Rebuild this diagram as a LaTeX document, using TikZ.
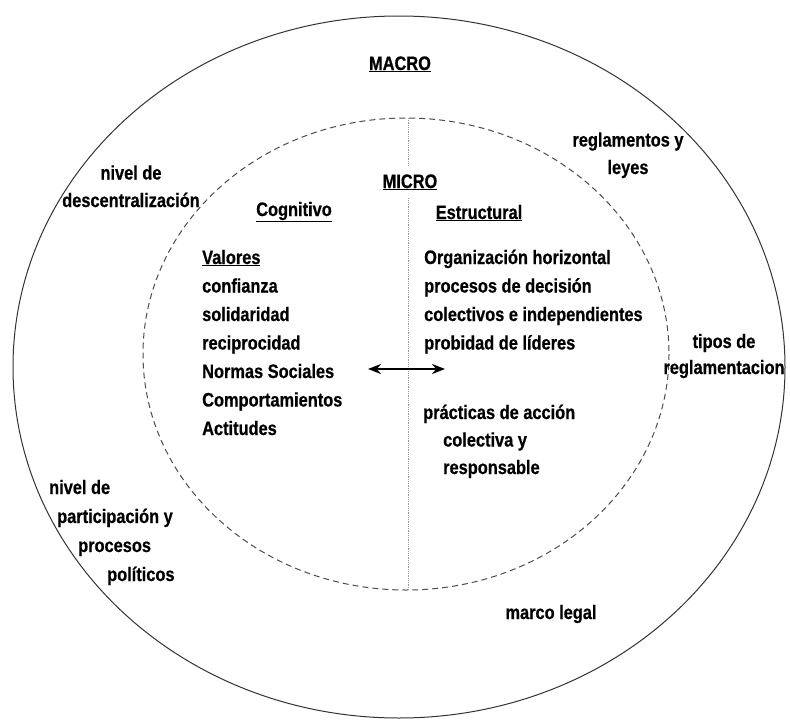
\documentclass[tikz,border=0pt]{standalone}
\usepackage{fontspec}
\setmainfont{Liberation Sans}[FakeStretch=0.84, BoldFeatures={FakeBold=0.6}]
\usetikzlibrary{arrows.meta, positioning, calc}

\begin{document}
\begin{tikzpicture}[x=1pt, y=-1pt,
    lbl/.style={font=\bfseries\fontsize{19.5}{27.5}\selectfont, inner sep=0pt, align=center},
    lcol/.style={lbl, anchor=base west},
    ring/.style={draw=black!80, line width=1pt},
    inring/.style={draw=black!70, line width=1pt, dash pattern=on 6pt off 4pt},
    divider/.style={draw=black!40, line width=0.8pt, densely dotted},
  ]
  \useasboundingbox (0,0) rectangle (790,720);

  % the two levels
  \draw[ring] (399,367) ellipse [x radius=386, y radius=351];
  \draw[inring] (406,354) ellipse [x radius=263, y radius=236];

  % MICRO with the divider
  \node[lbl, inner sep=8pt, anchor=base] (micro) at (410,188) {\underline{MICRO}};
  \coordinate (divtop) at (408,118);
  \coordinate (divbot) at (408,590);
  \draw[divider] (divtop) -- (divtop |- micro.north);
  \draw[divider] (divbot |- micro.south) -- (divbot);

  \node[lbl, anchor=base] (macro) at (400,70) {\underline{MACRO}};
  \node[lbl, anchor=base] (cognitivo) at (294,216) {\underline{Cognitivo}};
  \node[lbl, anchor=base] (estructural) at (479,219) {\underline{Estructural}};

  % cognitive side
  \foreach \t [count=\i] in {\underline{Valores}, confianza, solidaridad, reciprocidad,
      Normas Sociales, Comportamientos, Actitudes}
    \node[lcol] (cog\i) at (202, 264+28.5*\i-28.5) {\t};

  % structural side
  \foreach \t [count=\i] in {Organización horizontal, procesos de decisión,
      colectivos e independientes, probidad de líderes}
    \node[lcol] (est\i) at (424, 264+28.5*\i-28.5) {\t};
  \node[lcol, align=left] (practicas) at (423,474)
    {prácticas de acción\\\hspace*{20pt}colectiva y\\\hspace*{20pt}responsable};

  % link between both sides
  \coordinate (arrl) at (368,369);
  \coordinate (arrr) at (445,369);
  \draw[{Stealth[length=13pt, width=10pt]}-{Stealth[length=13pt, width=10pt]}, line width=2pt] (arrl) -- (arrr);

  % macro level
  \node[lbl, anchor=base] (descent) at (131,207) {nivel de\\descentralización};
  \node[lbl, anchor=base] (leyes) at (628,174) {reglamentos y\\leyes};
  \node[lbl, font=\bfseries\fontsize{19.5}{26}\selectfont, anchor=base] (tipos) at (724,374) {tipos de\\reglamentacion};
  \node[lbl, font=\bfseries\fontsize{19.5}{29}\selectfont, anchor=base west, align=left] (particip) at (49,581)
    {nivel de\\\hspace*{8pt}participación y\\\hspace*{29pt}procesos\\\hspace*{58pt}políticos};
  \node[lbl, anchor=base] (marco) at (551,619) {marco legal};
\end{tikzpicture}
\end{document}
